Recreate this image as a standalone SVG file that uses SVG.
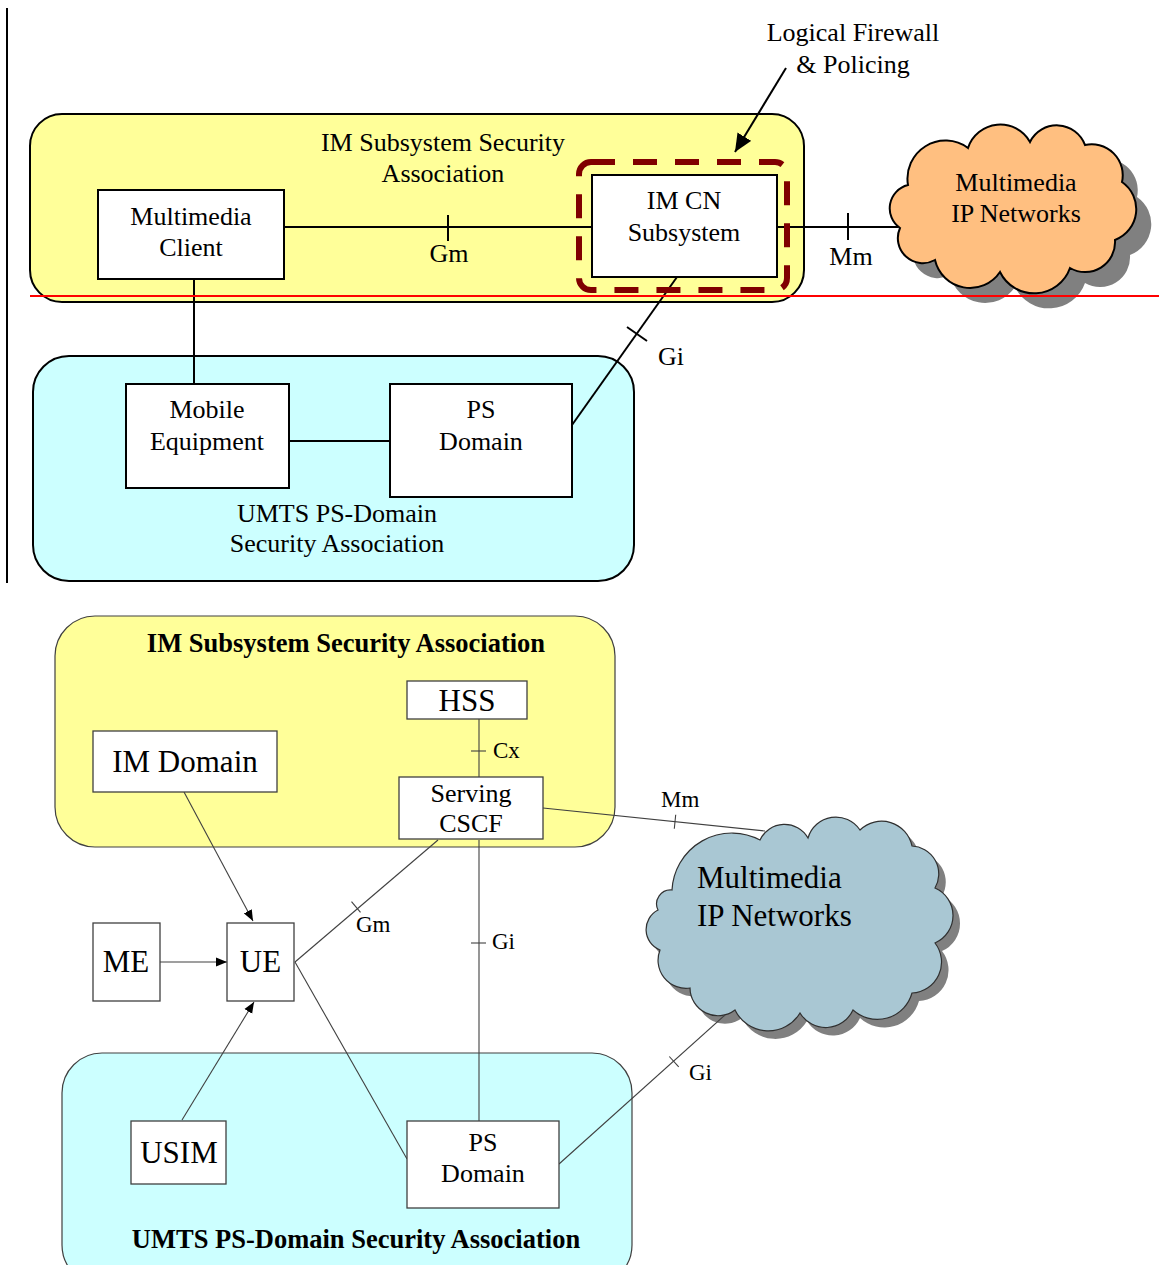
<svg xmlns="http://www.w3.org/2000/svg" width="1159" height="1265" viewBox="0 0 1159 1265">
<defs>
<style>
text{font-family:"Liberation Serif","Times New Roman",serif;fill:#000}
.t26{font-size:26px}
.b26{font-size:26.5px;font-weight:bold}
.t31{font-size:31px}
.t23{font-size:23px}
.box2{fill:#fff;stroke:#000;stroke-width:2}
.box1{fill:#fff;stroke:#404040;stroke-width:1.3}
.ln2{stroke:#000;stroke-width:2;fill:none}
.ln1{stroke:#404040;stroke-width:1.1;fill:none}
.mid{text-anchor:middle}
</style>
<marker id="bigArrow" markerUnits="userSpaceOnUse" markerWidth="20" markerHeight="16" refX="18" refY="8" orient="auto">
<path d="M0,0 L18,8 L0,16 z" fill="#000"/>
</marker>
<marker id="smallArrow" markerUnits="userSpaceOnUse" markerWidth="12" markerHeight="10" refX="11" refY="5" orient="auto">
<path d="M0,0.5 L11,5 L0,9.5 z" fill="#000"/>
</marker>
<path id="orangeCloud" d="M908,185 A38,38 0 0 1 968,148 A34,34 0 0 1 1030,142 A30,30 0 0 1 1085,145 A31,31 0 0 1 1122,182 A33,33 0 0 1 1115,240 A30,30 0 0 1 1070,268 A38,38 0 0 1 1000,272 A36,36 0 0 1 935,260 A25,25 0 0 1 900,228 A24,24 0 0 1 908,185 Z"/>
<path id="blueCloud" d="M672,890 A60,60 0 0 1 760,840 A27,27 0 0 1 808,838 A29,29 0 0 1 860,830 A31,31 0 0 1 912,846 A28,28 0 0 1 935,888 A30,30 0 0 1 935,943 A31,31 0 0 1 912,993 A36,36 0 0 1 853,1010 A30,30 0 0 1 800,1013 A37,37 0 0 1 735,1010 A28,28 0 0 1 690,988 A28,28 0 0 1 660,950 A22,22 0 0 1 658,910 A14,14 0 0 1 672,890 Z"/>
</defs>

<!-- ===== Top diagram ===== -->
<line x1="7" y1="8" x2="7" y2="583" stroke="#000" stroke-width="2"/>

<g id="im-ssa-top">
<rect x="30" y="114" width="774" height="188" rx="32" fill="#FFFF99" stroke="#000" stroke-width="2"/>
<text class="t26 mid" x="443" y="151">IM Subsystem Security</text>
<text class="t26 mid" x="443" y="182">Association</text>
</g>

<g id="umts-sa-top">
<rect x="33" y="356" width="601" height="225" rx="36" fill="#CCFFFF" stroke="#000" stroke-width="2"/>
<text class="t26 mid" x="337" y="522">UMTS PS-Domain</text>
<text class="t26 mid" x="337" y="552">Security Association</text>
</g>

<g id="firewall-label">
<text class="t26 mid" x="853" y="41">Logical Firewall</text>
<text class="t26 mid" x="853" y="73">&amp; Policing</text>
</g>

<g id="multimedia-ip-top">
<use href="#orangeCloud" transform="translate(15,15)" fill="#808080"/>
<use href="#orangeCloud" fill="#FFBF80" stroke="#000" stroke-width="2"/>
<text class="t26 mid" x="1016" y="191">Multimedia</text>
<text class="t26 mid" x="1016" y="222">IP Networks</text>
</g>

<g id="connectors-top">
<line class="ln2" x1="284" y1="227" x2="592" y2="227"/>
<line class="ln2" x1="448" y1="215" x2="448" y2="241"/>
<text class="t26 mid" x="449" y="262">Gm</text>
<line class="ln2" x1="777" y1="227" x2="898" y2="227"/>
<line class="ln2" x1="848" y1="213" x2="848" y2="240"/>
<text class="t26 mid" x="851" y="265">Mm</text>
<line class="ln2" x1="194" y1="280" x2="194" y2="384"/>
<line class="ln2" x1="289" y1="441" x2="390" y2="441"/>
<line class="ln2" x1="677" y1="277" x2="572" y2="425"/>
<line class="ln2" x1="627" y1="327" x2="647" y2="341"/>
<text class="t26" x="658" y="365">Gi</text>
<line class="ln2" x1="786" y1="68" x2="735" y2="152" marker-end="url(#bigArrow)"/>
</g>

<g id="firewall-boundary">
<rect x="579" y="162" width="208" height="128" rx="12" fill="none" stroke="#800000" stroke-width="6" stroke-dasharray="24 18"/>
</g>

<g id="multimedia-client">
<rect class="box2" x="98" y="190" width="186" height="89"/>
<text class="t26 mid" x="191" y="225">Multimedia</text>
<text class="t26 mid" x="191" y="256">Client</text>
</g>

<g id="im-cn-subsystem">
<rect class="box2" x="592" y="175" width="185" height="102"/>
<text class="t26 mid" x="684" y="209">IM CN</text>
<text class="t26 mid" x="684" y="241">Subsystem</text>
</g>

<g id="mobile-equipment">
<rect class="box2" x="126" y="384" width="163" height="104"/>
<text class="t26 mid" x="207" y="418">Mobile</text>
<text class="t26 mid" x="207" y="450">Equipment</text>
</g>

<g id="ps-domain-top">
<rect class="box2" x="390" y="384" width="182" height="113"/>
<text class="t26 mid" x="481" y="418">PS</text>
<text class="t26 mid" x="481" y="450">Domain</text>
</g>

<line x1="30" y1="296" x2="1159" y2="296" stroke="#FF0000" stroke-width="2"/>

<!-- ===== Bottom diagram ===== -->
<g id="im-ssa-bottom">
<rect x="55" y="616" width="560" height="231" rx="40" fill="#FFFF99" stroke="#404040" stroke-width="1.2"/>
<text class="b26 mid" x="346" y="652">IM Subsystem Security Association</text>
</g>

<g id="umts-sa-bottom">
<rect x="62" y="1053" width="570" height="232" rx="40" fill="#CCFFFF" stroke="#404040" stroke-width="1.2"/>
<text class="b26 mid" x="356" y="1248">UMTS PS-Domain Security Association</text>
</g>

<g id="multimedia-ip-bottom">
<use href="#blueCloud" transform="translate(7,8)" fill="#808080"/>
<use href="#blueCloud" fill="#A9C7D3" stroke="#303030" stroke-width="1.2"/>
<text class="t31" x="697" y="888">Multimedia</text>
<text class="t31" x="697" y="926">IP Networks</text>
</g>

<g id="connectors-bottom">
<line class="ln1" x1="479" y1="719" x2="479" y2="777"/>
<line class="ln1" x1="471" y1="751" x2="486" y2="751"/>
<text class="t23" x="493" y="758">Cx</text>
<line class="ln1" x1="543" y1="808" x2="765" y2="831"/>
<line class="ln1" x1="675.7" y1="814.8" x2="674.3" y2="828.8"/>
<text class="t23" x="661" y="807">Mm</text>
<line class="ln1" x1="438" y1="840" x2="295" y2="962"/>
<line class="ln1" x1="351.5" y1="901.7" x2="360.5" y2="912.3"/>
<text class="t23" x="356" y="932">Gm</text>
<line class="ln1" x1="479" y1="840" x2="479" y2="1121"/>
<line class="ln1" x1="471" y1="943" x2="486" y2="943"/>
<text class="t23" x="492" y="949">Gi</text>
<line class="ln1" x1="295" y1="962" x2="407" y2="1159"/>
<line class="ln1" x1="559" y1="1164" x2="725" y2="1015"/>
<line class="ln1" x1="669.3" y1="1056.5" x2="678.7" y2="1066.9"/>
<text class="t23" x="689" y="1080">Gi</text>
<line class="ln1" x1="160" y1="962" x2="227" y2="962" marker-end="url(#smallArrow)"/>
<line class="ln1" x1="184" y1="792" x2="253" y2="921" marker-end="url(#smallArrow)"/>
<line class="ln1" x1="182" y1="1120" x2="254" y2="1002" marker-end="url(#smallArrow)"/>
</g>

<g id="hss">
<rect class="box1" x="407" y="681" width="120" height="38"/>
<text class="t31 mid" x="467" y="711">HSS</text>
</g>

<g id="im-domain">
<rect class="box1" x="93" y="731" width="184" height="61"/>
<text class="t31 mid" x="185" y="772">IM Domain</text>
</g>

<g id="serving-cscf">
<rect class="box1" x="399" y="777" width="144" height="62"/>
<text class="t26 mid" x="471" y="802">Serving</text>
<text class="t26 mid" x="471" y="832">CSCF</text>
</g>

<g id="me">
<rect class="box1" x="93" y="923" width="67" height="78"/>
<text class="t31 mid" x="126" y="972">ME</text>
</g>

<g id="ue">
<rect class="box1" x="227" y="923" width="67" height="78"/>
<text class="t31 mid" x="260.5" y="972">UE</text>
</g>

<g id="usim">
<rect class="box1" x="131" y="1121" width="95" height="63"/>
<text class="t31 mid" x="179" y="1163">USIM</text>
</g>

<g id="ps-domain-bottom">
<rect class="box1" x="407" y="1121" width="152" height="87"/>
<text class="t26 mid" x="483" y="1151">PS</text>
<text class="t26 mid" x="483" y="1182">Domain</text>
</g>
</svg>
